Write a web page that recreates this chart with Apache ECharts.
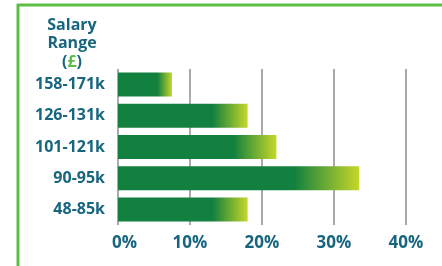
<!DOCTYPE html>
<html>
<head>
<meta charset="utf-8">
<script src="https://cdn.jsdelivr.net/npm/echarts@6/dist/echarts.min.js"></script>
<style>
  html, body { margin: 0; padding: 0; background: #fff; }
  #chart { width: 442px; height: 266px; }
</style>
</head>
<body>
<div id="chart"></div>
<script>
// salary bands, bottom to top
const categories = ['48-85k', '90-95k', '101-121k', '126-131k', '158-171k']
// share of respondents (%)
const shares = [18, 33.5, 22, 18, 7.5]
const xTicks = [0, 10, 20, 30, 40]

const textColor = '#17657f'
const darkGreen = '#12803e'
const lime = '#c6d72a'

const chart = echarts.init(document.getElementById('chart'))

const labelStyle = { color: textColor, fontSize: 17, fontWeight: 'bold', fontFamily: 'Open Sans' }

chart.setOption({
  animation: false,
  textStyle: { fontFamily: 'Open Sans' },
  title: {
    text: '{a|Salary}\n{a|Range}\n{a|(}{b|£}{a|)}',
    left: 67,
    top: 11,
    textAlign: 'center',
    textStyle: {
      rich: {
        a: { fontSize: 16, fontWeight: 'bold', color: textColor, lineHeight: 18.5, fontFamily: 'Open Sans' },
        b: { fontSize: 16, fontWeight: 'bold', color: '#5bbf45', lineHeight: 18.5, fontFamily: 'Open Sans' },
      },
    },
  },
  graphic: [
    // green frame
    { type: 'line', shape: { x1: 18, y1: 4, x2: 18, y2: 266 }, style: { stroke: '#5bbf45', lineWidth: 3 } },
    { type: 'line', shape: { x1: 17, y1: 5, x2: 442, y2: 5 }, style: { stroke: '#5bbf45', lineWidth: 3 } },
  ],
  grid: {
    left: 118,
    right: 36,
    top: 69,
    height: 156,
  },
  xAxis: {
    type: 'value',
    min: xTicks[0],
    max: xTicks[xTicks.length - 1],
    interval: 10,
    axisLine: { show: false },
    axisTick: { show: false },
    splitLine: { show: true, lineStyle: { color: '#aaaaae', width: 2 } },
    axisLabel: {
      // the 0% label sits a little right of its gridline
      formatter: (v) => (v === 0 ? '{z|' + v + '%}' : '{n|' + v + '%}'),
      margin: 10,
      rich: {
        n: labelStyle,
        z: Object.assign({ padding: [0, 0, 0, 13] }, labelStyle),
      },
    },
  },
  yAxis: {
    type: 'category',
    data: categories,
    axisLine: { show: false },
    axisTick: { show: false },
    axisLabel: {
      color: textColor,
      fontSize: 16,
      fontWeight: 'bold',
      margin: 13,
    },
  },
  series: [
    {
      type: 'bar',
      data: shares,
      barWidth: 24,
      itemStyle: {
        color: new echarts.graphic.LinearGradient(0, 0, 1, 0, [
          { offset: 0, color: darkGreen },
          { offset: 0.73, color: darkGreen },
          { offset: 1, color: lime },
        ]),
      },
    },
  ],
})
</script>
</body>
</html>
